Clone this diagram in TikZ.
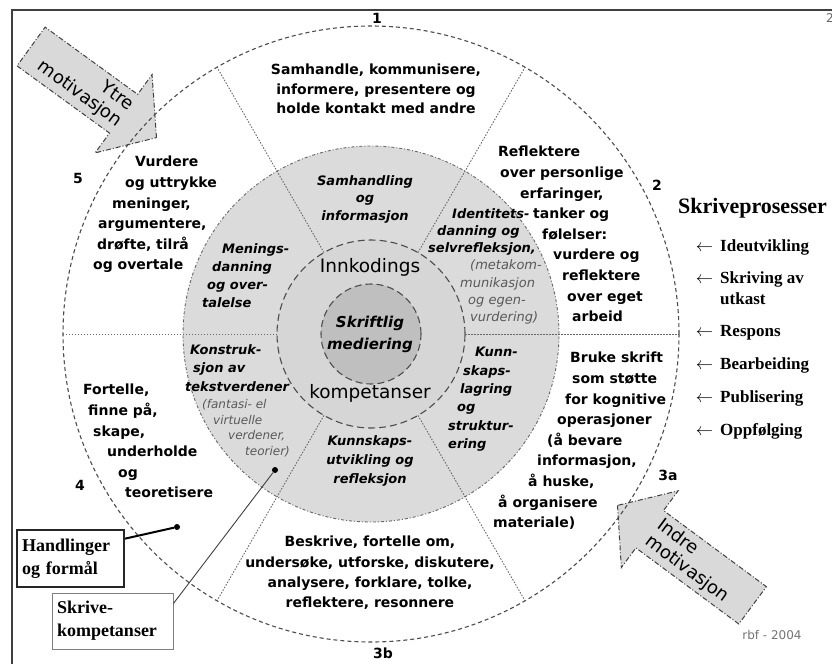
\documentclass[tikz,border=0pt]{standalone}
\usepackage{fontspec}
\setmainfont{DejaVu Sans}
\newfontfamily\timesfont{Liberation Serif}
\usetikzlibrary{shapes.arrows,positioning}

\definecolor{ringgraa}{gray}{0.86}
\definecolor{kodegraa}{gray}{0.84}
\definecolor{kjernegraa}{gray}{0.75}
\definecolor{pilgraa}{gray}{0.85}

\newcommand\sektorfont{\fontsize{14}{20.6}\selectfont\bfseries}
\newcommand\ringfont{\fontsize{13}{18}\selectfont\bfseries\itshape}
\newcommand\parfont{\mdseries\itshape\color{black!65}}

\begin{document}
\begin{tikzpicture}
			[x=1pt, y=-1pt,
			sektor/.style = {font=\sektorfont, align=left, anchor=north west, inner sep=0pt},
			ring/.style = {font=\ringfont, align=left, anchor=north west, inner sep=0pt},
			nummer/.style = {font=\fontsize{14}{16}\selectfont\bfseries, inner sep=0pt},
			pil/.style = {shape=single arrow, draw=black!75, fill=pilgraa, line width=1pt,
				dash pattern=on 5pt off 2pt on 1pt off 2pt, single arrow head extend=24.5pt,
				single arrow tip angle=100, font=\fontsize{18}{20}\selectfont, inner xsep=2pt},
			boks/.style = {font=\timesfont\fontsize{18}{23}\selectfont\bfseries, align=left, inner xsep=5pt},
			prikk/.style = {circle, fill=black, inner sep=0pt, minimum size=6pt},
			ytterkrets/.style = {draw=black!70, line width=1.1pt, dash pattern=on 4pt off 3pt},
			ringkant/.style = {draw=black!60, line width=0.9pt, dash pattern=on 3pt off 2pt on 1pt off 2pt},
			kodekant/.style = {draw=black!70, line width=1.1pt, dash pattern=on 7pt off 4pt},
			eiker/.style = {draw=black!60, line width=0.9pt, dash pattern=on 1.5pt off 1.5pt}]
			\useasboundingbox (0,0) rectangle (832,664);
			\draw[black!75, line width=1.3pt] (12,664) -- (12,10) -- (832,10);
			\node[font=\fontsize{12}{14}\selectfont, text=black!60] (side) at (830,18) {2};

			% motivasjonspiler
			\node[pil, rotate=-36, anchor=tip, align=right, minimum height=155pt, inner ysep=5pt] (ytre) at (157,138) {Ytre\\motivasjon};
			\node[pil, shape border rotate=180, rotate=-36.5, anchor=tip, align=left, minimum height=168pt, inner ysep=4pt] (indre) at (617,505) {Indre\\motivasjon};

			% sirklene
			\coordinate (m) at (371,334);
			\draw[ytterkrets] (m) circle (308pt);
			\fill[ringgraa] (m) circle (188pt);
			\draw[ringkant] (m) circle (188pt);
			\fill[kodegraa] (m) circle (94pt);
			\draw[kodekant] (m) circle (94pt);
			\fill[kjernegraa] (m) circle (50pt);
			\draw[kodekant] (m) circle (50pt);
			\foreach \v in {0,60,...,300}
				\draw[eiker] ([shift={(\v:94)}]m) -- ([shift={(\v:308)}]m);

			% sentrum
			\node[font=\fontsize{18.5}{20}\selectfont] (innkod) at (370,267) {Innkodings};
			\node[font=\fontsize{18.5}{20}\selectfont] (kompet) at (370,393) {kompetanser};
			\node[font=\fontsize{15}{22}\selectfont\bfseries\itshape, align=center] (skriftlig) at (370,334) {Skriftlig\\mediering};

			% ytre sektorer
			\node[sektor, anchor=north, align=center, font=\fontsize{14}{19.5}\selectfont\bfseries] (samhandle) at (376,64)
				{Samhandle, kommunisere,\\informere, presentere og\\holde kontakt med andre};
			\node[sektor] (reflekt) at (498,146)
				{Reflektere\\\hspace*{2pt}over personlige\\\hspace*{22pt}erfaringer,\\\hspace*{35pt}tanker og\\
				\hspace*{44pt}følelser:\\\hspace*{55pt}vurdere og\\\hspace*{64pt}reflektere\\\hspace*{69pt}over eget\\\hspace*{74pt}arbeid};
			\node[sektor] (bruke) at (493,352)
				{\hspace*{77pt}Bruke skrift\\\hspace*{79pt}som støtte\\\hspace*{72pt}for kognitive\\\hspace*{64pt}operasjoner\\
				\hspace*{54pt}(å bevare\\\hspace*{44pt}informasjon,\\\hspace*{35pt}å huske,\\\hspace*{5pt}å organisere\\materiale)};
			\node[sektor, anchor=north, align=center, font=\fontsize{14}{20.3}\selectfont\bfseries] (beskrive) at (370,536)
				{Beskrive, fortelle om,\\undersøke, utforske, diskutere,\\analysere, forklare, tolke,\\reflektere, resonnere};
			\node[sektor] (fortelle) at (83,384)
				{Fortelle,\\\hspace*{5pt}finne på,\\\hspace*{10pt}skape,\\\hspace*{24pt}underholde\\\hspace*{35pt}og\\\hspace*{42pt}teoretisere};
			\node[sektor] (vurdere) at (93,156)
				{\hspace*{42pt}Vurdere\\\hspace*{32pt}og uttrykke\\\hspace*{19pt}meninger,\\\hspace*{5pt}argumentere,\\\hspace*{4pt}drøfte, tilrå\\og overtale};

			% grå ring
			\node[ring, anchor=north, align=center, font=\fontsize{13}{17.5}\selectfont\bfseries\itshape] (samhinfo) at (365,175)
				{Samhandling\\og\\informasjon};
			\node[ring, font=\fontsize{13}{17.3}\selectfont\bfseries\itshape] (identitet) at (428,208)
				{\hspace*{24pt}Identitets-\\\hspace*{9pt}danning og\\selvrefleksjon,\\{\parfont\hspace*{42pt}(metakom-}\\
				{\parfont\hspace*{32pt}munikasjon}\\{\parfont\hspace*{40pt}og egen-}\\{\parfont\hspace*{42pt}vurdering)}};
			\node[ring, font=\fontsize{13}{18.4}\selectfont\bfseries\itshape] (kunnlagr) at (448,347)
				{\hspace*{27pt}Kunn-\\\hspace*{15pt}skaps-\\\hspace*{12pt}lagring\\\hspace*{9pt}og\\struktur-\\ering};
			\node[ring, anchor=north, align=center, font=\fontsize{13}{19}\selectfont\bfseries\itshape] (kunnutv) at (370,435)
				{Kunnskaps-\\utvikling og\\refleksjon};
			\node[ring, font=\fontsize{13}{18.5}\selectfont\bfseries\itshape] (konstr) at (185,344)
				{\hspace*{5pt}Konstruk-\\\hspace*{8pt}sjon av\\tekstverdener};
			\node[ring, font=\fontsize{12}{15.7}\selectfont\parfont] (konstrpar) at (202,399)
				{(fantasi- el\\\hspace*{11pt}virtuelle\\\hspace*{26pt}verdener,\\\hspace*{43pt}teorier)};
			\node[ring] (menings) at (202,243)
				{\hspace*{20pt}Menings-\\\hspace*{10pt}danning\\\hspace*{5pt}og over-\\talelse};

			% nummer
			\node[nummer] (n1) at (377,18) {1};
			\node[nummer] (n2) at (657,185) {2};
			\node[nummer] (n3a) at (668,475) {3a};
			\node[nummer] (n3b) at (383,653) {3b};
			\node[nummer] (n4) at (80,485) {4};
			\node[nummer] (n5) at (78,178) {5};

			% skriveprosesser
			\node[anchor=west, inner sep=0pt, font=\timesfont\fontsize{22}{24}\selectfont\bfseries] (prosesser) at (678,208) {Skriveprosesser};
			\node[anchor=north west, inner sep=0pt, align=left, font=\timesfont\fontsize{17}{21}\selectfont\bfseries] (trinn) at (720,239.5)
				{\llap{$\leftarrow$\hspace{7pt}}Ideutvikling\\[11pt]\llap{$\leftarrow$\hspace{7pt}}Skriving av\\utkast\\[11pt]
				\llap{$\leftarrow$\hspace{7pt}}Respons\\[12pt]\llap{$\leftarrow$\hspace{7pt}}Bearbeiding\\[12pt]
				\llap{$\leftarrow$\hspace{7pt}}Publisering\\[12pt]\llap{$\leftarrow$\hspace{7pt}}Oppfølging};
			\node[font=\fontsize{12}{14}\selectfont, text=black!55] (rbf) at (772,635) {rbf - 2004};

			% forklaringsbokser
			\node[boks, draw=black!85, line width=2.2pt, text width=97pt, minimum height=57pt] (handling) at (70.5,558.5) {Handlinger\\og formål};
			\node[boks, draw=black!50, line width=0.8pt, text width=111pt, minimum height=56pt] (skrivekomp) at (112.5,621) {Skrive-\\kompetanser};
			\node[prikk] (hprikk) at (177,527) {};
			\node[prikk] (sprikk) at (275,470) {};
			\draw[black, line width=2pt] (handling.20) -- (hprikk);
			\draw[black!75, line width=0.9pt] (skrivekomp.16) -- (sprikk);
		\end{tikzpicture}
\end{document}
